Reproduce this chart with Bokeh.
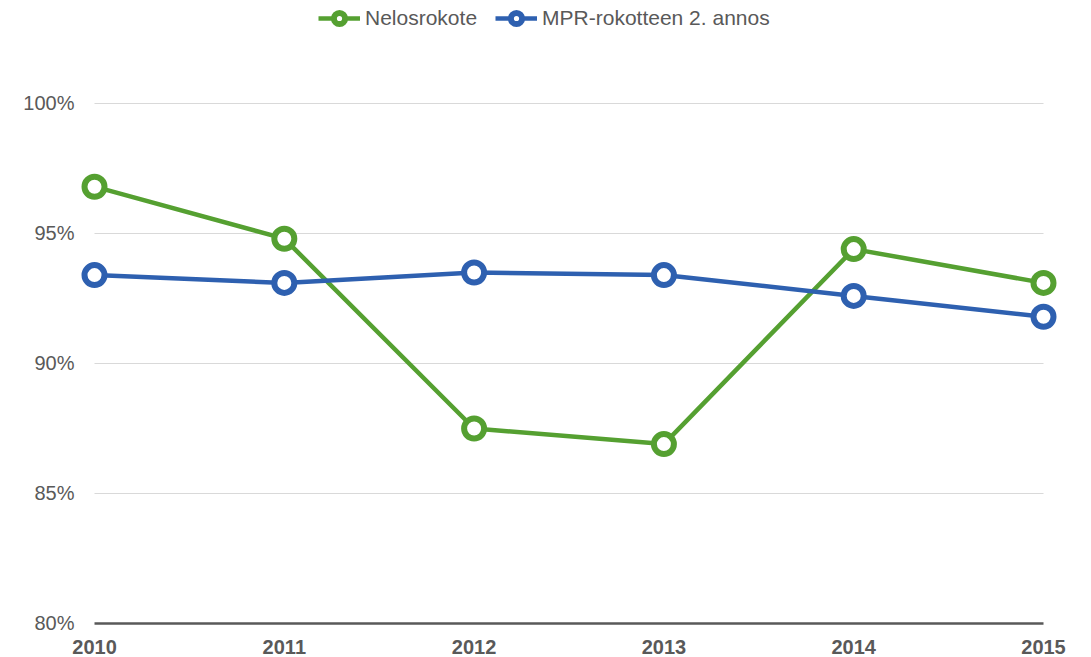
from bokeh.plotting import figure
from bokeh.models import Range1d, Legend, LegendItem, ColumnDataSource
from bokeh.core.properties import value
from bokeh.embed import file_html
from bokeh.resources import INLINE

years = [2010, 2011, 2012, 2013, 2014, 2015]
year_labels = ["2010", "2011", "2012", "2013", "2014", "2015"]
nelosrokote = [96.8, 94.8, 87.5, 86.9, 94.4, 93.1]
mpr_2 = [93.4, 93.1, 93.5, 93.4, 92.6, 91.8]
y_ticks = [80, 85, 90, 95, 100]
y_tick_labels = ["80%", "85%", "90%", "95%", "100%"]

GREEN = "#55a031"
BLUE = "#2e60b0"
TEXT = "#595959"
FONT = "Liberation Sans"

p = figure(width=1091, height=657, output_backend="svg", toolbar_location=None,
           x_range=Range1d(2009.5047, 2015.2529), y_range=Range1d(78.6923, 103.9615),
           min_border=0, min_border_left=0, min_border_right=0,
           min_border_top=0, min_border_bottom=0)
p.axis.visible = False
p.grid.visible = False
p.outline_line_color = None
p.background_fill_color = "white"
p.border_fill_color = "white"

# gridlines
grid_vals = [v for v in y_ticks if v != y_ticks[0]]
p.segment(x0=[years[0]] * len(grid_vals), x1=[years[-1]] * len(grid_vals),
          y0=grid_vals, y1=grid_vals, line_color="#d9d9d9", line_width=1)
# base axis line
p.segment(x0=[years[0]], x1=[years[-1]], y0=[y_ticks[0]], y1=[y_ticks[0]],
          line_color=TEXT, line_width=2.5)

# y tick labels
p.text(x=[years[0]] * len(y_ticks), y=y_ticks, text=y_tick_labels,
       x_offset=-20, text_align="right", text_baseline="middle",
       text_font=value(FONT), text_font_size="20px", text_color=TEXT)
# x tick labels
p.text(x=years, y=[y_ticks[0]] * len(years), text=year_labels,
       y_offset=24, text_align="center", text_baseline="middle",
       text_font=value(FONT), text_font_size="20px", text_font_style="bold",
       text_color=TEXT)

src = ColumnDataSource(dict(x=years, g=nelosrokote, b=mpr_2))
lg = p.line("x", "g", source=src, line_color=GREEN, line_width=4.5)
sg = p.scatter("x", "g", source=src, size=20, line_color=GREEN, line_width=6,
               fill_color="white")
lb = p.line("x", "b", source=src, line_color=BLUE, line_width=4.5)
sb = p.scatter("x", "b", source=src, size=20, line_color=BLUE, line_width=6,
               fill_color="white")

legend = Legend(items=[LegendItem(label="Nelosrokote", renderers=[lg, sg]),
                       LegendItem(label="MPR-rokotteen 2. annos", renderers=[lb, sb])],
                orientation="horizontal", location=(318, 625),
                glyph_width=42, glyph_height=28, label_standoff=5, spacing=18,
                padding=0, margin=0, border_line_alpha=0, background_fill_alpha=0,
                label_text_font=FONT, label_text_font_size="21px",
                label_text_color=TEXT)
p.add_layout(legend)

open("out.html", "w").write(file_html(p, INLINE))
